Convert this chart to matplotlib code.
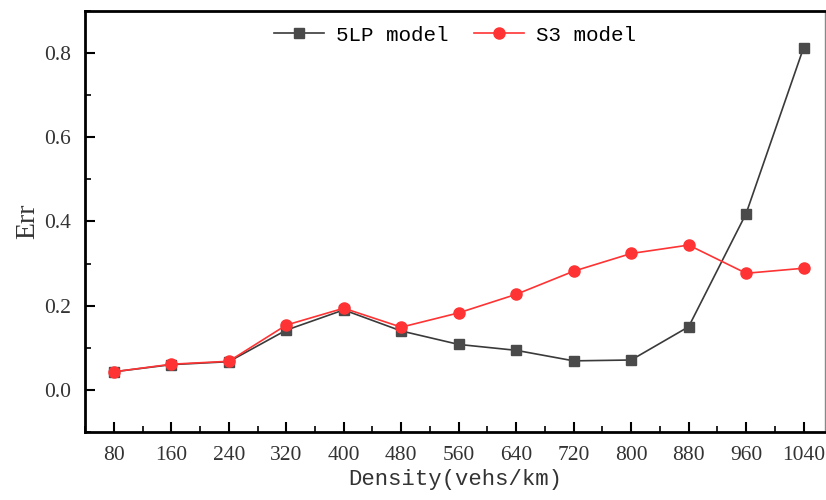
import matplotlib
matplotlib.use("Agg")
import matplotlib.pyplot as plt
from matplotlib.ticker import MultipleLocator, FuncFormatter

density = [80, 160, 240, 320, 400, 480, 560, 640, 720, 800, 880, 960, 1040]
err_5lp = [0.043, 0.060, 0.067, 0.142, 0.190, 0.140, 0.108, 0.094, 0.069, 0.071, 0.150, 0.419, 0.813]
err_s3 = [0.043, 0.061, 0.068, 0.154, 0.194, 0.149, 0.183, 0.227, 0.282, 0.324, 0.344, 0.277, 0.289]
xticks = density

plt.rcParams['font.family'] = ['Liberation Serif', 'DejaVu Serif']

fig = plt.figure(figsize=(8.26, 5.0), dpi=100)
ax = fig.add_axes([0.103, 0.136, 0.896, 0.842])

ax.plot(density, err_5lp, color='#3a3a3a', lw=1.2, marker='s', ms=7,
        mfc='#4a4a4a', mec='#4a4a4a', label='5LP model')
ax.plot(density, err_s3, color='#ff3333', lw=1.2, marker='o', ms=8,
        mfc='#ff3333', mec='#ff3333', label='S3 model')

ax.set_xlim(40, 1070)
ax.set_ylim(-0.1, 0.9)
ax.set_xticks(xticks)
ax.xaxis.set_minor_locator(MultipleLocator(40))
ax.yaxis.set_major_locator(MultipleLocator(0.2))
ax.yaxis.set_minor_locator(MultipleLocator(0.1))
ax.yaxis.set_major_formatter(FuncFormatter(lambda v, p: f"{v:.1f}"))

ax.tick_params(which='major', direction='in', length=7, width=1.5, labelsize=15.5, pad=10)
ax.tick_params(which='minor', direction='in', length=4, width=1.2)
ax.tick_params(axis='both', colors='#000000', labelcolor='#333333')

for s in ['left', 'bottom', 'top']:
    ax.spines[s].set_linewidth(2.0)
    ax.spines[s].set_color('black')
ax.spines['right'].set_linewidth(1.0)
ax.spines['right'].set_color('#888888')

ax.set_xlabel('Density(vehs/km)', fontsize=16, color='#333333', labelpad=3,
              family=['Liberation Mono', 'DejaVu Sans Mono'])
ax.set_ylabel('Err', fontsize=20, color='#333333', labelpad=3)

ax.legend(loc='upper center', bbox_to_anchor=(0.5, 1.01), ncol=2, frameon=False,
          handlelength=2.4, columnspacing=1.2, handletextpad=0.6,
          prop={'family': ['Liberation Mono', 'DejaVu Sans Mono'], 'size': 15})

fig.savefig('out.png', dpi=100)
